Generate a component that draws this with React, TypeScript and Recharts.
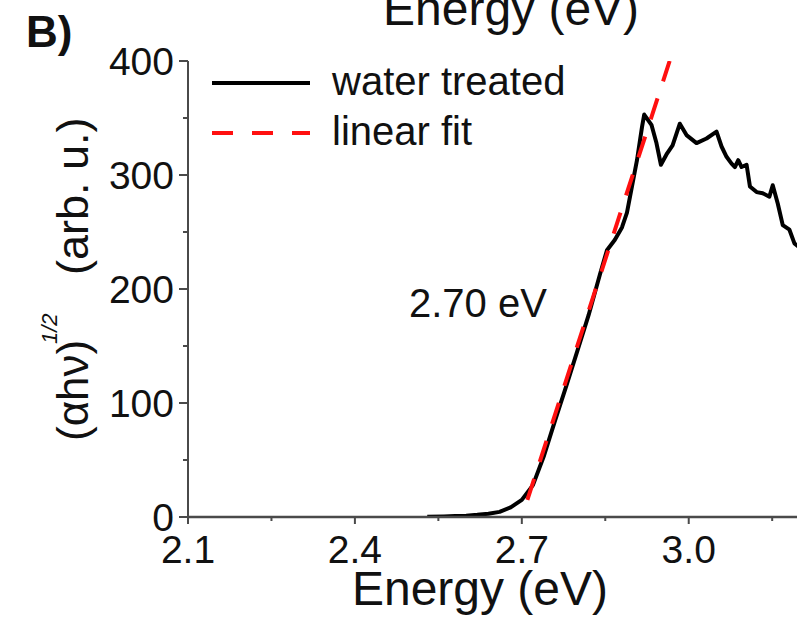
import React from 'react';
import { LineChart, Line, XAxis, YAxis, Legend, Customized } from 'recharts';

// Tauc plot: (αhν)^1/2 versus photon energy, with the linear band-edge fit
const energy = [
  2.53, 2.56, 2.58, 2.6, 2.62, 2.64, 2.66, 2.68, 2.7, 2.72,
  2.74, 2.76, 2.78, 2.8, 2.82, 2.84, 2.853, 2.867, 2.88, 2.889,
  2.898, 2.907, 2.916, 2.92, 2.933, 2.942, 2.95, 2.96, 2.971, 2.984,
  2.996, 3.014, 3.032, 3.05, 3.059, 3.068, 3.077, 3.083, 3.089, 3.095,
  3.104, 3.11, 3.122, 3.133, 3.145, 3.151, 3.16, 3.169, 3.181, 3.19,
  3.2,
];
const intensity = [
  0.3, 0.5, 0.8, 1.2, 1.9, 2.9, 4.5, 8.5, 15, 28,
  54, 85, 115, 146, 177, 212, 234, 243, 254, 267,
  290, 313, 342, 353, 344, 328, 309, 318, 326, 345,
  335, 328, 332, 338, 325, 316, 310, 307, 313, 307,
  309, 290, 285, 284, 281, 291, 275, 256, 252, 240,
  236,
];

// Linear fit of the absorption edge; it crosses zero at 2.70 eV
const fitEnergy = [2.71, 2.9657];
const fitIntensity = [15, 400];
const bandGapLabel = '2.70 eV';

const xTicks = [2.1, 2.25, 2.4, 2.55, 2.7, 2.85, 3.0, 3.15];
const xTickLabels = ['2.1', '', '2.4', '', '2.7', '', '3.0', ''];
const yTicks = [0, 50, 100, 150, 200, 250, 300, 350, 400];
const yTickLabels = ['0', '', '100', '', '200', '', '300', '', '400'];

const seriesNames = ['water treated', 'linear fit'];

const curveRows = energy.map((e, i) => ({ e, v: intensity[i] }));
const fitRows = fitEnergy.map((e, i) => ({ e, fit: fitIntensity[i] }));

const FONT = '"Liberation Sans", Arial, Helvetica, sans-serif';
const AXIS = '#4a4a4a';
const INK = '#111';
const FIT_RED = '#ff1010';

const seriesStyle: Record<string, { color: string; dash?: string }> = {
  'water treated': { color: '#000' },
  'linear fit': { color: FIT_RED, dash: '21 19' },
};

const findIndex = (list: number[], v: number) => {
  let best = 0;
  list.forEach((t, i) => {
    if (Math.abs(t - v) < Math.abs(list[best] - v)) best = i;
  });
  return best;
};

const XTick = (props: any) => {
  const { x, y, payload } = props;
  const label = xTickLabels[findIndex(xTicks, payload.value)];
  const major = label !== '';
  return (
    <g>
      <line x1={x} x2={x} y1={y} y2={y + (major ? 7 : 4)} stroke={AXIS} strokeWidth={2} />
      {major && (
        <text x={x} y={y + 46} textAnchor="middle" fontSize={39} fontFamily={FONT} fill={INK}>
          {label}
        </text>
      )}
    </g>
  );
};

const YTick = (props: any) => {
  const { x, y, payload } = props;
  const label = yTickLabels[findIndex(yTicks, payload.value)];
  const major = label !== '';
  return (
    <g>
      <line x1={x} x2={x - (major ? 9 : 5)} y1={y} y2={y} stroke={AXIS} strokeWidth={2} />
      {major && (
        <text x={x - 14} y={y + 14} textAnchor="end" fontSize={39} fontFamily={FONT} fill={INK}>
          {label}
        </text>
      )}
    </g>
  );
};

const LegendBox = (props: any) => {
  const payload: any[] = [...(props.payload || [])].sort(
    (a, b) => seriesNames.indexOf(String(a.value)) - seriesNames.indexOf(String(b.value)),
  );
  return (
    <svg width={420} height={110} style={{ display: 'block', overflow: 'visible' }}>
      {payload.map((entry, i) => {
        const name = String(entry.value);
        const st = seriesStyle[name] || { color: entry.color };
        const cy = 28 + i * 50;
        return (
          <g key={name}>
            <line
              x1={12}
              x2={110}
              y1={cy}
              y2={cy}
              stroke={st.color}
              strokeWidth={4}
              strokeDasharray={st.dash}
            />
            <text x={132} y={cy + 12} fontSize={40} fontFamily={FONT} fill={INK}>
              {name}
            </text>
          </g>
        );
      })}
    </svg>
  );
};

const Annotations = () => (
  <g fontFamily={FONT} fill={INK}>
    <text x={26} y={47} fontSize={44} fontWeight="bold">B)</text>
    <text x={383} y={25} fontSize={48}>Energy (eV)</text>
    <text x={409} y={317} fontSize={40}>{bandGapLabel}</text>
    <text x={480} y={605} fontSize={48} textAnchor="middle">Energy (eV)</text>
    <g transform="rotate(-90, 88, 441)">
      <text x={88} y={441} fontSize={44}>(αhν)</text>
    </g>
    <g transform="rotate(-90, 57, 344)">
      <text x={57} y={344} fontSize={22} fontStyle="italic">1/2</text>
    </g>
    <g transform="rotate(-90, 88, 275)">
      <text x={88} y={275} fontSize={45}>(arb. u.)</text>
    </g>
  </g>
);

export default function App() {
  return (
    <div
      style={{
        position: 'absolute',
        left: 0,
        top: 0,
        width: 797,
        height: 617,
        overflow: 'hidden',
        background: '#fff',
      }}
    >
      <LineChart width={810} height={617} margin={{ top: 61, right: 10, bottom: 0, left: 0 }}>
        <XAxis
          type="number"
          dataKey="e"
          domain={[2.1, 3.2]}
          allowDataOverflow
          ticks={xTicks}
          interval={0}
          tickSize={0}
          tickMargin={0}
          tickLine={false}
          tick={<XTick />}
          axisLine={{ stroke: AXIS, strokeWidth: 2.5 }}
          height={100}
        />
        <YAxis
          type="number"
          domain={[0, 400]}
          allowDataOverflow
          ticks={yTicks}
          interval={0}
          tickSize={0}
          tickMargin={0}
          tickLine={false}
          tick={<YTick />}
          axisLine={{ stroke: AXIS, strokeWidth: 2 }}
          width={188}
        />
        <Legend
          layout="vertical"
          align="center"
          verticalAlign="middle"
          content={<LegendBox />}
          wrapperStyle={{ left: 200, top: 55, width: 420, height: 110 }}
        />
        <Line
          data={curveRows}
          dataKey="v"
          name={seriesNames[0]}
          type="linear"
          stroke="#000"
          strokeWidth={4}
          strokeLinejoin="round"
          dot={false}
          activeDot={false}
          isAnimationActive={false}
        />
        <Line
          data={fitRows}
          dataKey="fit"
          name={seriesNames[1]}
          type="linear"
          stroke={FIT_RED}
          strokeWidth={4}
          strokeDasharray="22 18"
          dot={false}
          activeDot={false}
          isAnimationActive={false}
        />
        <Customized component={Annotations} />
      </LineChart>
    </div>
  );
}
